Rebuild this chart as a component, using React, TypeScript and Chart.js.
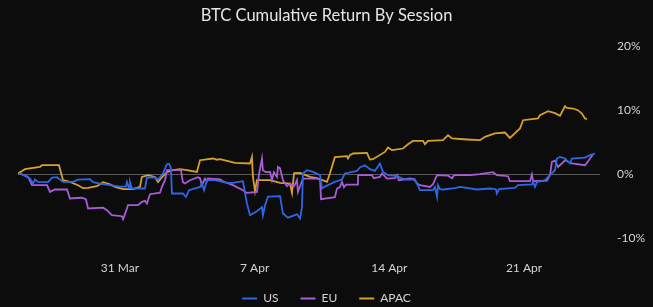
import { useEffect, useRef } from 'react';
import { Chart, registerables } from 'chart.js';

Chart.register(...registerables);

// x = days relative to 31 Mar 00:00, y = cumulative return in %
const usSeries: [number, number][] = [
  [-5.2, 0.16], [-4.68, -0.63], [-4.52, -1.41], [-4.42, -0.78], [-4.26, -1.16], [-3.74, -1.2],
  [-3.53, -0.5], [-3.27, -0.42], [-2.96, -1.16], [-2.44, -1.16], [-2.18, -0.8], [-1.56, -0.73],
  [-1.4, -1.2], [-1.04, -1.41], [-0.52, -1.67], [0, -1.9], [0.31, -1.9], [0.36, -1.16],
  [0.47, -2.14], [0.52, -1.2], [0.62, -2.19], [1.3, -2.19], [1.4, -0.47], [1.82, -0.47],
  [1.98, -0.78], [2.23, 0.16], [2.44, 1.61], [2.55, 1.69], [2.65, 0.98], [2.7, -2.97],
  [3.27, -2.97], [3.43, -3.5], [3.59, -2.45], [4.16, -1.94], [4.26, -1.41], [4.37, -2.45],
  [4.52, -0.89], [4.94, -0.89], [5.56, -1.31], [5.87, -1.31], [6.39, -1.05], [6.6, -4.53],
  [6.76, -6.36], [7.12, -5.73], [7.38, -5.1], [7.43, -6.36], [7.54, -4.8], [7.69, -3.47],
  [8.32, -3.39], [8.47, -6.09], [8.73, -6.75], [9.2, -6.22], [9.36, -6.88], [9.46, -5.1],
  [9.51, 0.16], [9.72, 0.67], [10.03, 0.41], [10.4, -0.11], [10.5, -2.19], [10.65, -1.9],
  [11.17, -1.16], [11.54, -0.78], [11.69, 0.16], [12.32, 0.56], [12.47, 1.09], [12.73, 1.45],
  [12.99, 0.83], [13.25, 0.56], [13.51, 1.72], [13.67, 0.41], [13.93, -0.11], [14.4, -0.27],
  [14.81, -0.78], [15.33, -0.78], [15.44, -1.44], [15.59, -2.45], [16.27, -2.45], [16.37, -1.94],
  [16.48, -3.5], [16.53, -1.67], [16.63, -2.3], [16.79, -2.34], [17.41, -2.14], [17.67, -1.94],
  [18.56, -2.34], [19.23, -2.19], [19.54, -2.3], [19.59, -2.97], [19.7, -2.3], [20.53, -2.09],
  [20.69, -1.67], [21.41, -1.56], [21.47, -1.16], [21.57, -1.94], [21.67, -1.2], [22.09, -0.89],
  [22.35, -0.11], [22.61, 0.67], [22.71, 2.5], [22.87, 2.75], [23.13, 2.5], [23.39, 1.72],
  [23.49, 2.5], [24.17, 2.63], [24.43, 3.02], [24.69, 3.28],
];

const euSeries: [number, number][] = [
  [-5.2, 0.16], [-4.78, -0.38], [-4.57, -1.67], [-3.79, -1.67], [-3.64, -2.72], [-3.38, -2.34],
  [-2.75, -2.34], [-2.6, -3.75], [-1.98, -3.63], [-1.77, -3.86], [-1.66, -5.31], [-0.88, -5.19],
  [-0.68, -5.58], [-0.42, -6.36], [0.1, -6.52], [0.16, -6.98], [0.26, -6.2], [0.42, -4.8],
  [0.94, -4.8], [1.14, -4.28], [1.3, -4.1], [1.4, -4.53], [1.56, -3.08], [2.08, -2.84],
  [2.18, -1.94], [2.34, -0.89], [2.44, 0.67], [3.17, 0.67], [3.27, -1.2], [3.38, -1.41],
  [3.64, -0.89], [4.05, -0.42], [4.16, -0.58], [4.26, -1.67], [4.42, -0.63], [4.52, -1.05],
  [4.57, -0.63], [5.2, -0.78], [5.35, -1.05], [5.87, -1.67], [6.39, -2.45], [6.6, -2.88],
  [7.12, -2.72], [7.22, -0.11], [7.38, 2.5], [7.43, 0.67], [7.59, 0.36], [7.8, 0.41],
  [7.9, -0.89], [8.0, 0.36], [8.16, -0.38], [8.21, 1.19], [8.32, 0.98], [8.47, -0.89],
  [8.68, -1.83], [8.84, -1.41], [9.05, -1.83], [9.2, -0.89], [9.25, -2.72], [9.36, -1.83],
  [9.51, -0.63], [10.24, -0.63], [10.4, -0.81], [10.45, -3.86], [11.17, -3.55], [11.28, -2.19],
  [11.43, -1.98], [11.54, -1.16], [11.64, -1.98], [11.75, -1.59], [12.32, -1.59], [12.37, -0.11],
  [13.1, -0.11], [13.2, -0.58], [13.51, -0.38], [13.62, 0.16], [13.88, -0.63], [14.29, -0.58],
  [14.4, -0.11], [14.5, -0.89], [15.07, -0.63], [15.28, -0.73], [15.44, -1.41], [15.59, -1.67],
  [16.11, -1.94], [16.27, -1.52], [16.48, -0.11], [17.05, -0.19], [17.26, -0.58], [17.36, -0.11],
  [18.19, -0.11], [18.71, 0.05], [19.39, 0.36], [19.59, -0.11], [20.17, -0.27], [20.27, -1.05],
  [21.31, -1.05], [21.41, 0.0], [21.47, -1.05], [22.19, -0.97], [22.35, -0.11], [22.45, 1.97],
  [22.61, 2.16], [22.77, 1.19], [23.13, 2.23], [23.49, 1.72], [24.17, 1.45], [24.33, 2.08],
  [24.58, 3.13],
];

const apacSeries: [number, number][] = [
  [-5.3, 0.16], [-4.94, 0.83], [-4.16, 1.2], [-4.05, 1.45], [-3.17, 1.45], [-2.96, -0.89],
  [-2.6, -1.16], [-2.18, -1.67], [-1.92, -2.14], [-1.66, -2.09], [-1.2, -1.83], [-0.88, -1.2],
  [-0.52, -1.52], [-0.26, -1.94], [0.16, -2.3], [0.68, -2.3], [1.04, -1.94], [1.14, -0.38],
  [1.46, -0.11], [1.82, -0.38], [1.98, -1.16], [2.23, -0.27], [2.44, 0.36], [2.75, 0.67],
  [3.12, 0.83], [3.48, 0.67], [4.0, 0.41], [4.16, 2.23], [4.83, 2.5], [5.04, 2.31],
  [5.2, 2.39], [5.98, 1.81], [6.76, 1.72], [6.86, 2.75], [6.91, -0.38], [7.02, -2.6],
  [7.12, -0.89], [7.8, -0.89], [8.32, -1.31], [8.84, -1.41], [8.94, -2.88], [9.05, 0.2],
  [9.36, 0.25], [9.88, -0.38], [10.24, -0.58], [10.76, -1.16], [10.91, 0.16], [11.17, 2.7],
  [11.8, 2.86], [11.85, 2.5], [11.95, 3.02], [12.11, 3.28], [12.84, 3.38], [12.99, 2.34],
  [13.15, 2.39], [13.77, 3.53], [13.93, 4.22], [14.14, 3.8], [14.71, 4.06], [14.97, 4.73],
  [15.23, 5.25], [15.75, 5.25], [15.85, 4.73], [16.01, 5.25], [16.79, 5.36], [17.05, 6.14],
  [17.26, 5.63], [18.04, 5.47], [18.71, 5.36], [18.97, 5.88], [19.49, 6.41], [20.01, 6.56],
  [20.27, 5.72], [20.79, 7.19], [20.95, 8.48], [21.73, 8.75], [21.83, 9.27], [22.25, 9.89],
  [22.61, 9.58], [22.87, 9.16], [23.13, 10.67], [23.23, 10.41], [23.54, 10.31], [23.8, 10.05],
  [24.01, 9.53], [24.17, 8.75], [24.27, 8.64],
];

const xTickDays = [0, 7, 14, 21];
const xTickLabels = ['31 Mar', '7 Apr', '14 Apr', '21 Apr'];
const seriesNames = ['US', 'EU', 'APAC'];

const W = 653;
const H = 307;
const BG = '#0c0c0c';
const BLUE = '#2f66e6';
const PURPLE = '#a95cd8';
const GOLD = '#d5a02c';
const TEXT = '#d4d4d4';
const FONT = 'Lato, "Open Sans", sans-serif';

export default function App() {
  const ref = useRef<HTMLCanvasElement>(null);

  useEffect(() => {
    document.body.style.margin = '0';
    document.body.style.background = BG;
    const toPts = (s: [number, number][]) => s.map(([x, y]) => ({ x, y }));
    const mk = (label: string, s: [number, number][], color: string) => ({
      label,
      data: toPts(s),
      borderColor: color,
      backgroundColor: color,
      borderWidth: 1.8,
      pointRadius: 0,
      tension: 0,
    });
    const chart = new Chart(ref.current as HTMLCanvasElement, {
      type: 'line',
      data: {
        datasets: [
          mk(seriesNames[0], usSeries, BLUE),
          mk(seriesNames[1], euSeries, PURPLE),
          mk(seriesNames[2], apacSeries, GOLD),
        ],
      },
      options: {
        animation: false,
        responsive: false,
        maintainAspectRatio: false,
        layout: { padding: 0 },
        plugins: {
          title: {
            display: true,
            text: 'BTC Cumulative Return By Session',
            color: '#e6e6e6',
            font: { family: FONT, size: 16.5, weight: 'normal' },
            padding: { top: 6, bottom: 20.7 },
          },
          legend: {
            position: 'bottom',
            maxHeight: 36.5,
            labels: {
              usePointStyle: true,
              pointStyle: 'line',
              pointStyleWidth: 15,
              color: TEXT,
              font: { family: FONT, size: 12 },
              padding: 22,
            },
          },
          tooltip: { enabled: false },
        },
        scales: {
          x: {
            type: 'linear',
            min: -5.3,
            max: 24.95,
            grid: { display: false, drawTicks: false },
            border: { display: false },
            afterBuildTicks: (s: any) => {
              s.ticks = xTickDays.map((v) => ({ value: v }));
            },
            afterFit: (s: any) => {
              s.height = 32;
            },
            ticks: {
              mirror: true,
              padding: -36.7,
              color: TEXT,
              font: { family: FONT, size: 12 },
              maxRotation: 0,
              autoSkip: false,
              callback: (v: any) => {
                const i = xTickDays.indexOf(Number(v));
                return i >= 0 ? xTickLabels[i] : '';
              },
            },
          },
          y: {
            position: 'right',
            min: -10,
            max: 20,
            afterFit: (s: any) => {
              s.width = 53;
            },
            grid: {
              color: (c: any) => (c.tick && c.tick.value === 0 ? '#5a5a5a' : 'rgba(0,0,0,0)'),
              drawTicks: false,
              lineWidth: 1,
            },
            border: { display: false },
            ticks: {
              stepSize: 10,
              padding: 17,
              color: TEXT,
              font: { family: FONT, size: 12 },
              callback: (v: any) => v + '%',
            },
          },
          yLeft: {
            position: 'left',
            display: true,
            min: -10,
            max: 20,
            grid: { display: false, drawTicks: false },
            border: { display: false },
            ticks: { display: false },
            afterFit: (s: any) => {
              s.width = 18;
            },
          },
        },
      },
    });
    return () => chart.destroy();
  }, []);

  return (
    <div style={{ width: W, height: H, background: BG }}>
      <canvas ref={ref} width={W} height={H} style={{ display: 'block', width: W, height: H }} />
    </div>
  );
}
